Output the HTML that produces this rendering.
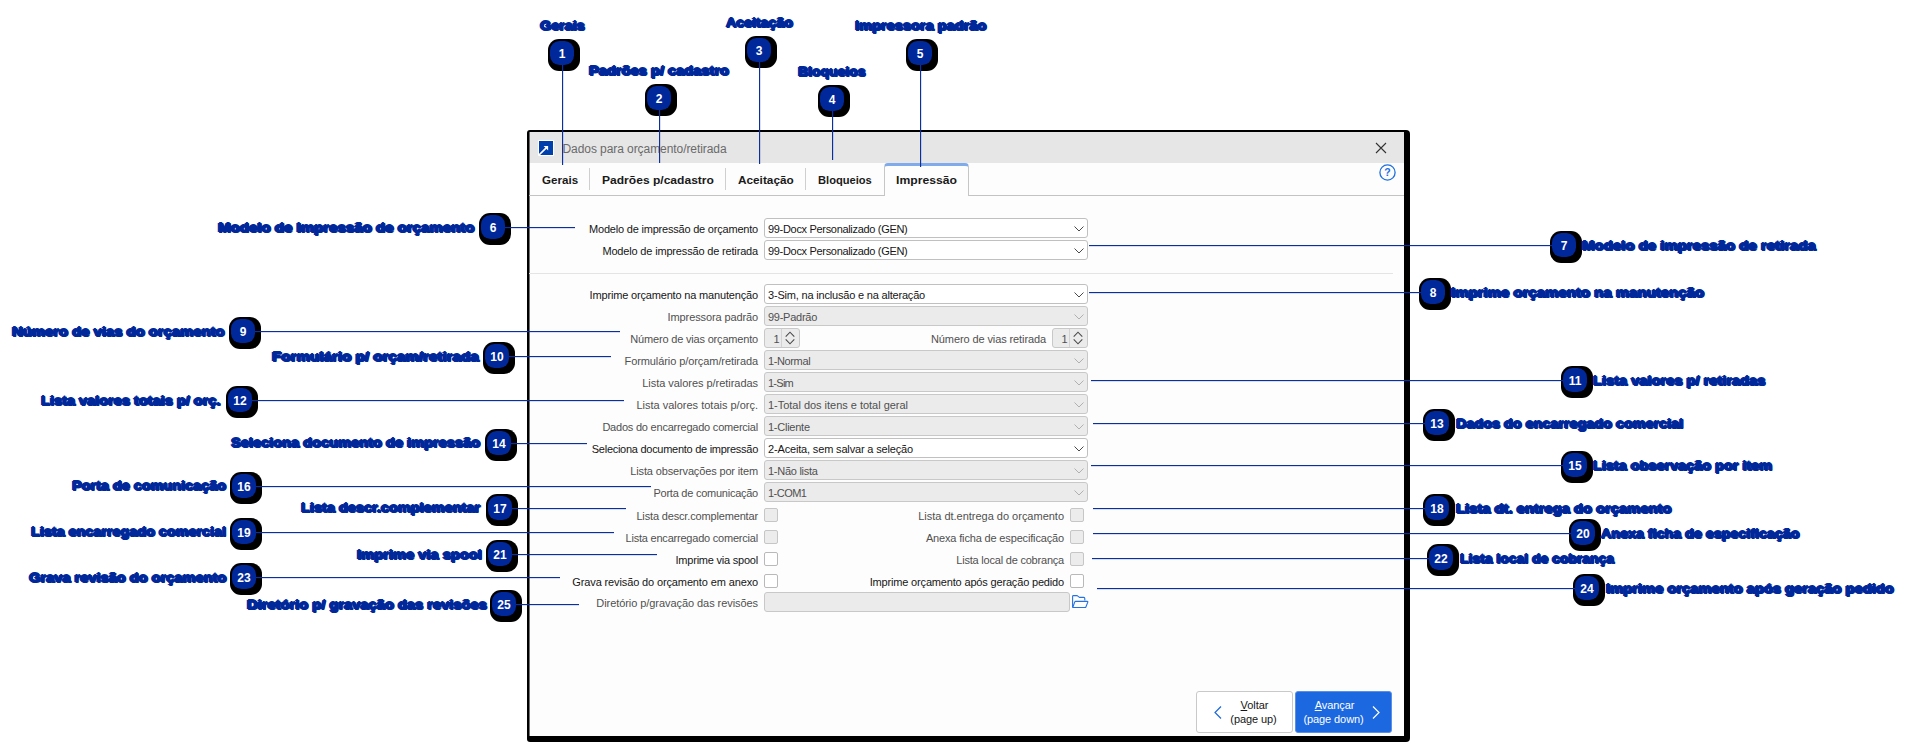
<!DOCTYPE html>
<html><head><meta charset="utf-8"><title>Dados para orçamento/retirada</title><style>

html,body{margin:0;padding:0;background:#fff;}
body{width:1911px;height:752px;position:relative;overflow:hidden;font-family:'Liberation Sans', sans-serif;}
.abs{position:absolute;}
.frame{position:absolute;left:527px;top:130px;width:883px;height:612px;background:#000;border-radius:3px 4px 4px 3px;}
.dlg{position:absolute;left:529px;top:132px;width:875px;height:604px;background:#fdfdfd;}
.title{position:absolute;left:0;top:0;width:875px;height:31px;background:#e6e6e6;}
.tabline{position:absolute;left:0;top:63px;width:875px;height:1px;background:#c3c3c3;}
.tsep{position:absolute;top:36px;width:1px;height:22px;background:#cfcfcf;}
.atab{position:absolute;left:355px;top:31px;width:85px;height:33px;background:#fdfdfd;border:1px solid #c6c6c6;border-bottom:none;
  border-top:3px solid #7faaec;border-radius:4px 4px 0 0;box-sizing:border-box;}
.cb{position:absolute;height:20px;box-sizing:border-box;border:1px solid #c0c0c0;border-radius:3px;background:#fff;}
.cb.dis{background:#ebebeb;border-color:#c8c8c8;}
.chk{position:absolute;width:14px;height:14px;box-sizing:border-box;border:1px solid #b9b9b9;border-radius:2px;background:#fff;}
.chk.dis{background:#ececec;border-color:#c6c6c6;}
.sep{position:absolute;left:0;top:141px;width:864px;height:1px;background:#e4e4e4;}
.bsh{position:absolute;width:32px;height:32px;border-radius:11px;background:#000;}
.badge{position:absolute;width:24px;height:24px;border-radius:9.5px;background:#00289a;color:#fff;
  font:700 12px/25px 'Liberation Sans', sans-serif;text-align:center;}
.al{text-shadow:1px 0 0 #00289a,-1px 0 0 #00289a,0 1px 0 #00289a,0 -1px 0 #00289a,1px 1px 0 #00289a;}
.btn{position:absolute;top:559px;height:42px;box-sizing:border-box;border-radius:3px;}
svg{position:absolute;overflow:visible;}

</style></head><body>
<div class="frame"></div>
<div class="dlg">
<div class="title"></div>
<div class="abs" style="left:0;top:0;width:1px;height:604px;background:rgba(0,0,0,.55)"></div>
<svg style="left:9px;top:8px" width="16" height="16" viewBox="0 0 16 16"><rect width="16" height="16" rx="1" fill="#fff"/><rect x="1" y="1" width="14" height="14" fill="#0040ac"/><path d="M1 15 L8.2 7.8" stroke="#fff" stroke-width="1.7" fill="none"/><path d="M5.6 5.9 H10.1 V10.4 Z" fill="#fff"/></svg>
<svg style="left:847px;top:11px" width="10" height="10" viewBox="0 0 10 10"><path d="M0 0 L10 10 M10 0 L0 10" stroke="#333" stroke-width="1.1" fill="none"/></svg>
<svg style="left:849.5px;top:32px" width="17" height="17" viewBox="0 0 17 17"><circle cx="8.5" cy="8.5" r="7.6" fill="none" stroke="#1f6fe0" stroke-width="1.3"/><text x="8.5" y="12.4" text-anchor="middle" font-family="Liberation Sans, sans-serif" font-size="10.5" font-weight="700" fill="#1f6fe0">?</text></svg>
<div class="tabline"></div>
<div class="tsep" style="left:60px"></div>
<div class="tsep" style="left:196px"></div>
<div class="tsep" style="left:276px"></div>
<div class="atab"></div>
<div class="sep"></div>
</div>
<div style="position:absolute;left:562.5px;top:142.54px;font:400 12px/1.117 'Liberation Sans', sans-serif;color:#6a6a6a;white-space:pre;letter-spacing:-0.072px;">Dados para orçamento/retirada</div>
<div style="position:absolute;left:541.9px;top:173.94px;font:700 11px/1.117 'Liberation Sans', sans-serif;color:#1a1a1a;white-space:pre;transform:scaleX(1.0540);transform-origin:0 0;">Gerais</div>
<div style="position:absolute;left:602.1px;top:173.94px;font:700 11px/1.117 'Liberation Sans', sans-serif;color:#1a1a1a;white-space:pre;transform:scaleX(1.0961);transform-origin:0 0;">Padrões p/cadastro</div>
<div style="position:absolute;left:738.3px;top:173.94px;font:700 11px/1.117 'Liberation Sans', sans-serif;color:#1a1a1a;white-space:pre;transform:scaleX(1.0715);transform-origin:0 0;">Aceitação</div>
<div style="position:absolute;left:818.1px;top:173.94px;font:700 11px/1.117 'Liberation Sans', sans-serif;color:#1a1a1a;white-space:pre;transform:scaleX(1.0118);transform-origin:0 0;">Bloqueios</div>
<div style="position:absolute;left:896.0px;top:173.94px;font:700 11px/1.117 'Liberation Sans', sans-serif;color:#1a1a1a;white-space:pre;transform:scaleX(1.1066);transform-origin:0 0;">Impressão</div>
<div style="position:absolute;left:589.1px;top:223.04px;font:400 11px/1.117 'Liberation Sans', sans-serif;color:#161616;white-space:pre;letter-spacing:-0.206px;">Modelo de impressão de orçamento</div>
<div class="cb" style="left:764px;top:218px;width:324px"></div>
<div style="position:absolute;left:768.0px;top:223.04px;font:400 11px/1.117 'Liberation Sans', sans-serif;color:#161616;white-space:pre;letter-spacing:-0.317px;">99-Docx Personalizado (GEN)</div>
<svg style="left:1073.5px;top:225.5px" width="10" height="6" viewBox="0 0 10 6"><path d="M0.5 0.5 L5 5 L9.5 0.5" stroke="#4a4a4a" stroke-width="1" fill="none"/></svg>
<div style="position:absolute;left:602.4px;top:245.04px;font:400 11px/1.117 'Liberation Sans', sans-serif;color:#161616;white-space:pre;letter-spacing:-0.168px;">Modelo de impressão de retirada</div>
<div class="cb" style="left:764px;top:240px;width:324px"></div>
<div style="position:absolute;left:768.0px;top:245.04px;font:400 11px/1.117 'Liberation Sans', sans-serif;color:#161616;white-space:pre;letter-spacing:-0.317px;">99-Docx Personalizado (GEN)</div>
<svg style="left:1073.5px;top:247.5px" width="10" height="6" viewBox="0 0 10 6"><path d="M0.5 0.5 L5 5 L9.5 0.5" stroke="#4a4a4a" stroke-width="1" fill="none"/></svg>
<div style="position:absolute;left:589.6px;top:289.05px;font:400 11px/1.117 'Liberation Sans', sans-serif;color:#161616;white-space:pre;letter-spacing:-0.17px;">Imprime orçamento na manutenção</div>
<div class="cb" style="left:764px;top:284px;width:324px"></div>
<div style="position:absolute;left:768.0px;top:289.05px;font:400 11px/1.117 'Liberation Sans', sans-serif;color:#161616;white-space:pre;letter-spacing:-0.19px;">3-Sim, na inclusão e na alteração</div>
<svg style="left:1073.5px;top:291.5px" width="10" height="6" viewBox="0 0 10 6"><path d="M0.5 0.5 L5 5 L9.5 0.5" stroke="#4a4a4a" stroke-width="1" fill="none"/></svg>
<div style="position:absolute;left:667.6px;top:311.05px;font:400 11px/1.117 'Liberation Sans', sans-serif;color:#505050;white-space:pre;letter-spacing:-0.113px;">Impressora padrão</div>
<div class="cb dis" style="left:764px;top:306px;width:324px"></div>
<div style="position:absolute;left:768.0px;top:311.05px;font:400 11px/1.117 'Liberation Sans', sans-serif;color:#505050;white-space:pre;letter-spacing:-0.264px;">99-Padrão</div>
<svg style="left:1073.5px;top:313.5px" width="10" height="6" viewBox="0 0 10 6"><path d="M0.5 0.5 L5 5 L9.5 0.5" stroke="#b0b0b0" stroke-width="1" fill="none"/></svg>
<div style="position:absolute;left:630.3px;top:333.05px;font:400 11px/1.117 'Liberation Sans', sans-serif;color:#505050;white-space:pre;letter-spacing:-0.182px;">Número de vias orçamento</div>
<div class="cb dis" style="left:764px;top:328px;width:36px"></div><div class="abs" style="left:781px;top:329px;width:1px;height:18px;background:#d2d2d2"></div><div style="position:absolute;left:773.5px;top:333.05px;font:400 11px/1.117 'Liberation Sans', sans-serif;color:#505050;white-space:pre;">1</div><svg style="left:785.2px;top:330.8px" width="10" height="14" viewBox="0 0 10 14"><path d="M0.7 5.6 L5 1.2 L9.3 5.6 M0.7 8.4 L5 12.8 L9.3 8.4" stroke="#4a4a4a" stroke-width="1.1" fill="none"/></svg>
<div style="position:absolute;left:624.5px;top:355.05px;font:400 11px/1.117 'Liberation Sans', sans-serif;color:#505050;white-space:pre;letter-spacing:-0.082px;">Formulário p/orçam/retirada</div>
<div class="cb dis" style="left:764px;top:350px;width:324px"></div>
<div style="position:absolute;left:768.0px;top:355.05px;font:400 11px/1.117 'Liberation Sans', sans-serif;color:#505050;white-space:pre;letter-spacing:-0.379px;">1-Normal</div>
<svg style="left:1073.5px;top:357.5px" width="10" height="6" viewBox="0 0 10 6"><path d="M0.5 0.5 L5 5 L9.5 0.5" stroke="#b0b0b0" stroke-width="1" fill="none"/></svg>
<div style="position:absolute;left:642.3px;top:377.05px;font:400 11px/1.117 'Liberation Sans', sans-serif;color:#505050;white-space:pre;letter-spacing:-0.043px;">Lista valores p/retiradas</div>
<div class="cb dis" style="left:764px;top:372px;width:324px"></div>
<div style="position:absolute;left:768.0px;top:377.05px;font:400 11px/1.117 'Liberation Sans', sans-serif;color:#505050;white-space:pre;letter-spacing:-0.747px;">1-Sim</div>
<svg style="left:1073.5px;top:379.5px" width="10" height="6" viewBox="0 0 10 6"><path d="M0.5 0.5 L5 5 L9.5 0.5" stroke="#b0b0b0" stroke-width="1" fill="none"/></svg>
<div style="position:absolute;left:636.4px;top:399.05px;font:400 11px/1.117 'Liberation Sans', sans-serif;color:#505050;white-space:pre;letter-spacing:-0.003px;">Lista valores totais p/orç.</div>
<div class="cb dis" style="left:764px;top:394px;width:324px"></div>
<div style="position:absolute;left:768.0px;top:399.05px;font:400 11px/1.117 'Liberation Sans', sans-serif;color:#505050;white-space:pre;letter-spacing:-0.021px;">1-Total dos itens e total geral</div>
<svg style="left:1073.5px;top:401.5px" width="10" height="6" viewBox="0 0 10 6"><path d="M0.5 0.5 L5 5 L9.5 0.5" stroke="#b0b0b0" stroke-width="1" fill="none"/></svg>
<div style="position:absolute;left:602.4px;top:421.05px;font:400 11px/1.117 'Liberation Sans', sans-serif;color:#505050;white-space:pre;letter-spacing:-0.215px;">Dados do encarregado comercial</div>
<div class="cb dis" style="left:764px;top:416px;width:324px"></div>
<div style="position:absolute;left:768.0px;top:421.05px;font:400 11px/1.117 'Liberation Sans', sans-serif;color:#505050;white-space:pre;letter-spacing:-0.248px;">1-Cliente</div>
<svg style="left:1073.5px;top:423.5px" width="10" height="6" viewBox="0 0 10 6"><path d="M0.5 0.5 L5 5 L9.5 0.5" stroke="#b0b0b0" stroke-width="1" fill="none"/></svg>
<div style="position:absolute;left:591.8px;top:443.05px;font:400 11px/1.117 'Liberation Sans', sans-serif;color:#161616;white-space:pre;letter-spacing:-0.272px;">Seleciona documento de impressão</div>
<div class="cb" style="left:764px;top:438px;width:324px"></div>
<div style="position:absolute;left:768.0px;top:443.05px;font:400 11px/1.117 'Liberation Sans', sans-serif;color:#161616;white-space:pre;letter-spacing:-0.16px;">2-Aceita, sem salvar a seleção</div>
<svg style="left:1073.5px;top:445.5px" width="10" height="6" viewBox="0 0 10 6"><path d="M0.5 0.5 L5 5 L9.5 0.5" stroke="#4a4a4a" stroke-width="1" fill="none"/></svg>
<div style="position:absolute;left:630.3px;top:465.05px;font:400 11px/1.117 'Liberation Sans', sans-serif;color:#505050;white-space:pre;letter-spacing:-0.144px;">Lista observações por item</div>
<div class="cb dis" style="left:764px;top:460px;width:324px"></div>
<div style="position:absolute;left:768.0px;top:465.05px;font:400 11px/1.117 'Liberation Sans', sans-serif;color:#505050;white-space:pre;letter-spacing:-0.271px;">1-Não lista</div>
<svg style="left:1073.5px;top:467.5px" width="10" height="6" viewBox="0 0 10 6"><path d="M0.5 0.5 L5 5 L9.5 0.5" stroke="#b0b0b0" stroke-width="1" fill="none"/></svg>
<div style="position:absolute;left:653.5px;top:487.05px;font:400 11px/1.117 'Liberation Sans', sans-serif;color:#505050;white-space:pre;letter-spacing:-0.248px;">Porta de comunicação</div>
<div class="cb dis" style="left:764px;top:482px;width:324px"></div>
<div style="position:absolute;left:768.0px;top:487.05px;font:400 11px/1.117 'Liberation Sans', sans-serif;color:#505050;white-space:pre;letter-spacing:-0.527px;">1-COM1</div>
<svg style="left:1073.5px;top:489.5px" width="10" height="6" viewBox="0 0 10 6"><path d="M0.5 0.5 L5 5 L9.5 0.5" stroke="#b0b0b0" stroke-width="1" fill="none"/></svg>
<div style="position:absolute;left:636.4px;top:509.65px;font:400 11px/1.117 'Liberation Sans', sans-serif;color:#505050;white-space:pre;letter-spacing:-0.156px;">Lista descr.complementar</div>
<div class="chk dis" style="left:764px;top:508px"></div>
<div style="position:absolute;left:625.5px;top:531.64px;font:400 11px/1.117 'Liberation Sans', sans-serif;color:#505050;white-space:pre;letter-spacing:-0.211px;">Lista encarregado comercial</div>
<div class="chk dis" style="left:764px;top:530px"></div>
<div style="position:absolute;left:675.5px;top:553.64px;font:400 11px/1.117 'Liberation Sans', sans-serif;color:#161616;white-space:pre;letter-spacing:-0.218px;">Imprime via spool</div>
<div class="chk" style="left:764px;top:552px"></div>
<div style="position:absolute;left:572.3px;top:575.64px;font:400 11px/1.117 'Liberation Sans', sans-serif;color:#161616;white-space:pre;letter-spacing:-0.127px;">Grava revisão do orçamento em anexo</div>
<div class="chk" style="left:764px;top:574px"></div>
<div style="position:absolute;left:596.3px;top:597.04px;font:400 11px/1.117 'Liberation Sans', sans-serif;color:#505050;white-space:pre;letter-spacing:-0.065px;">Diretório p/gravação das revisões</div>
<div class="cb dis" style="left:764px;top:592px;width:306px"></div>
<svg style="left:1072px;top:595px" width="17" height="14" viewBox="0 0 17 14"><path d="M0.6 12 V1.4 Q0.6 0.6 1.4 0.6 H5.2 L7.4 2.4 H11.8 Q12.8 2.4 12.8 3.4 V5.6" fill="none" stroke="#2472e2" stroke-width="1.1" stroke-linejoin="round"/><path d="M0.7 12.5 L2.8 6.9 Q3 6.4 3.6 6.4 H15.3 Q16 6.4 15.8 7.1 L13.9 12 Q13.7 12.5 13.1 12.5 Z" fill="none" stroke="#2472e2" stroke-width="1.1" stroke-linejoin="round"/></svg>
<div style="position:absolute;left:931.0px;top:333.05px;font:400 11px/1.117 'Liberation Sans', sans-serif;color:#505050;white-space:pre;letter-spacing:-0.104px;">Número de vias retirada</div>
<div class="cb dis" style="left:1052px;top:328px;width:36px"></div><div class="abs" style="left:1069px;top:329px;width:1px;height:18px;background:#d2d2d2"></div><div style="position:absolute;left:1061.5px;top:333.05px;font:400 11px/1.117 'Liberation Sans', sans-serif;color:#505050;white-space:pre;">1</div><svg style="left:1073.2px;top:330.8px" width="10" height="14" viewBox="0 0 10 14"><path d="M0.7 5.6 L5 1.2 L9.3 5.6 M0.7 8.4 L5 12.8 L9.3 8.4" stroke="#4a4a4a" stroke-width="1.1" fill="none"/></svg>
<div style="position:absolute;left:918.2px;top:509.65px;font:400 11px/1.117 'Liberation Sans', sans-serif;color:#505050;white-space:pre;letter-spacing:-0.012px;">Lista dt.entrega do orçamento</div>
<div class="chk dis" style="left:1070px;top:508px"></div>
<div style="position:absolute;left:925.9px;top:531.64px;font:400 11px/1.117 'Liberation Sans', sans-serif;color:#505050;white-space:pre;letter-spacing:-0.157px;">Anexa ficha de especificação</div>
<div class="chk dis" style="left:1070px;top:530px"></div>
<div style="position:absolute;left:956.3px;top:553.64px;font:400 11px/1.117 'Liberation Sans', sans-serif;color:#505050;white-space:pre;letter-spacing:-0.209px;">Lista local de cobrança</div>
<div class="chk dis" style="left:1070px;top:552px"></div>
<div style="position:absolute;left:869.7px;top:575.64px;font:400 11px/1.117 'Liberation Sans', sans-serif;color:#161616;white-space:pre;letter-spacing:-0.169px;">Imprime orçamento após geração pedido</div>
<div class="chk" style="left:1070px;top:574px"></div>
<div class="btn" style="left:1196px;top:691px;width:97px;background:#fff;border:1px solid #c9c9c9"></div>
<div class="btn" style="left:1295px;top:691px;width:97px;background:#1c68e0;border:1px solid #5b8fe6"></div>
<svg style="left:1214px;top:705.5px" width="8" height="13" viewBox="0 0 8 13"><path d="M7 0.5 L1 6.5 L7 12.5" stroke="#1c68e0" stroke-width="1.2" fill="none"/></svg>
<svg style="left:1372px;top:705.5px" width="8" height="13" viewBox="0 0 8 13"><path d="M1 0.5 L7 6.5 L1 12.5" stroke="#fff" stroke-width="1.2" fill="none"/></svg>
<div style="position:absolute;left:1240.6px;top:698.75px;font:400 11px/1.117 'Liberation Sans', sans-serif;color:#161616;white-space:pre;letter-spacing:-0.07px;"><span style="text-decoration:underline">V</span>oltar</div>
<div style="position:absolute;left:1230.3px;top:713.44px;font:400 11px/1.117 'Liberation Sans', sans-serif;color:#161616;white-space:pre;letter-spacing:-0.078px;">(page up)</div>
<div style="position:absolute;left:1314.7px;top:698.75px;font:400 11px/1.117 'Liberation Sans', sans-serif;color:#fff;white-space:pre;letter-spacing:-0.086px;"><span style="text-decoration:underline">A</span>vançar</div>
<div style="position:absolute;left:1303.4px;top:713.44px;font:400 11px/1.117 'Liberation Sans', sans-serif;color:#fff;white-space:pre;letter-spacing:-0.083px;">(page down)</div>
<div class="bsh" style="left:548.0px;top:39.0px"></div>
<div class="bsh" style="left:645.0px;top:84.0px"></div>
<div class="bsh" style="left:745.0px;top:36.0px"></div>
<div class="bsh" style="left:818.0px;top:85.0px"></div>
<div class="bsh" style="left:906.0px;top:39.0px"></div>
<div class="bsh" style="left:479.0px;top:213.0px"></div>
<div class="bsh" style="left:1550.0px;top:231.0px"></div>
<div class="bsh" style="left:1419.0px;top:278.0px"></div>
<div class="bsh" style="left:229.0px;top:317.0px"></div>
<div class="bsh" style="left:483.0px;top:342.0px"></div>
<div class="bsh" style="left:1561.0px;top:366.0px"></div>
<div class="bsh" style="left:226.0px;top:386.0px"></div>
<div class="bsh" style="left:1423.0px;top:409.0px"></div>
<div class="bsh" style="left:485.0px;top:429.0px"></div>
<div class="bsh" style="left:1561.0px;top:451.0px"></div>
<div class="bsh" style="left:230.0px;top:472.0px"></div>
<div class="bsh" style="left:486.0px;top:494.0px"></div>
<div class="bsh" style="left:1423.0px;top:494.0px"></div>
<div class="bsh" style="left:230.0px;top:518.0px"></div>
<div class="bsh" style="left:1569.0px;top:519.0px"></div>
<div class="bsh" style="left:486.0px;top:540.0px"></div>
<div class="bsh" style="left:1427.0px;top:544.0px"></div>
<div class="bsh" style="left:230.0px;top:563.0px"></div>
<div class="bsh" style="left:1573.0px;top:574.0px"></div>
<div class="bsh" style="left:490.0px;top:590.0px"></div>
<svg style="left:0;top:0" width="1911" height="752" viewBox="0 0 1911 752">
<rect x="562" y="53" width="1.15" height="112" fill="#0a2f9e"/>
<rect x="659" y="98" width="1.15" height="65" fill="#0a2f9e"/>
<rect x="759" y="50" width="1.15" height="114" fill="#0a2f9e"/>
<rect x="832" y="99" width="1.15" height="61" fill="#0a2f9e"/>
<rect x="920" y="53" width="1.15" height="114" fill="#0a2f9e"/>
<rect x="493" y="227" width="82" height="1.15" fill="#0a2f9e"/>
<rect x="243" y="331" width="377" height="1.15" fill="#0a2f9e"/>
<rect x="497" y="356" width="114" height="1.15" fill="#0a2f9e"/>
<rect x="240" y="400" width="384" height="1.15" fill="#0a2f9e"/>
<rect x="499" y="443" width="88" height="1.15" fill="#0a2f9e"/>
<rect x="244" y="486" width="407" height="1.15" fill="#0a2f9e"/>
<rect x="500" y="508" width="126" height="1.15" fill="#0a2f9e"/>
<rect x="244" y="532" width="370" height="1.15" fill="#0a2f9e"/>
<rect x="500" y="554" width="157" height="1.15" fill="#0a2f9e"/>
<rect x="244" y="577" width="316" height="1.15" fill="#0a2f9e"/>
<rect x="504" y="604" width="75" height="1.15" fill="#0a2f9e"/>
<rect x="1089" y="245" width="475" height="1.15" fill="#0a2f9e"/>
<rect x="1089" y="292" width="344" height="1.15" fill="#0a2f9e"/>
<rect x="1091" y="380" width="484" height="1.15" fill="#0a2f9e"/>
<rect x="1093" y="423" width="344" height="1.15" fill="#0a2f9e"/>
<rect x="1091" y="465" width="484" height="1.15" fill="#0a2f9e"/>
<rect x="1093" y="508" width="344" height="1.15" fill="#0a2f9e"/>
<rect x="1093" y="533" width="490" height="1.15" fill="#0a2f9e"/>
<rect x="1092" y="558" width="349" height="1.15" fill="#0a2f9e"/>
<rect x="1097" y="588" width="490" height="1.15" fill="#0a2f9e"/>
</svg>
<div class="badge" style="left:550.0px;top:41.0px"></div>
<div style="position:absolute;left:550.0px;width:24px;text-align:center;top:47px;font:700 12px/14px 'Liberation Sans', sans-serif;color:#fff">1</div>
<div class="badge" style="left:647.0px;top:86.0px"></div>
<div style="position:absolute;left:647.0px;width:24px;text-align:center;top:92px;font:700 12px/14px 'Liberation Sans', sans-serif;color:#fff">2</div>
<div class="badge" style="left:747.0px;top:38.0px"></div>
<div style="position:absolute;left:747.0px;width:24px;text-align:center;top:44px;font:700 12px/14px 'Liberation Sans', sans-serif;color:#fff">3</div>
<div class="badge" style="left:820.0px;top:87.0px"></div>
<div style="position:absolute;left:820.0px;width:24px;text-align:center;top:93px;font:700 12px/14px 'Liberation Sans', sans-serif;color:#fff">4</div>
<div class="badge" style="left:908.0px;top:41.0px"></div>
<div style="position:absolute;left:908.0px;width:24px;text-align:center;top:47px;font:700 12px/14px 'Liberation Sans', sans-serif;color:#fff">5</div>
<div class="badge" style="left:481.0px;top:215.0px"></div>
<div style="position:absolute;left:481.0px;width:24px;text-align:center;top:221px;font:700 12px/14px 'Liberation Sans', sans-serif;color:#fff">6</div>
<div class="badge" style="left:1552.0px;top:233.0px"></div>
<div style="position:absolute;left:1552.0px;width:24px;text-align:center;top:239px;font:700 12px/14px 'Liberation Sans', sans-serif;color:#fff">7</div>
<div class="badge" style="left:1421.0px;top:280.0px"></div>
<div style="position:absolute;left:1421.0px;width:24px;text-align:center;top:286px;font:700 12px/14px 'Liberation Sans', sans-serif;color:#fff">8</div>
<div class="badge" style="left:231.0px;top:319.0px"></div>
<div style="position:absolute;left:231.0px;width:24px;text-align:center;top:325px;font:700 12px/14px 'Liberation Sans', sans-serif;color:#fff">9</div>
<div class="badge" style="left:485.0px;top:344.0px"></div>
<div style="position:absolute;left:485.0px;width:24px;text-align:center;top:350px;font:700 12px/14px 'Liberation Sans', sans-serif;color:#fff">10</div>
<div class="badge" style="left:1563.0px;top:368.0px"></div>
<div style="position:absolute;left:1563.0px;width:24px;text-align:center;top:374px;font:700 12px/14px 'Liberation Sans', sans-serif;color:#fff">11</div>
<div class="badge" style="left:228.0px;top:388.0px"></div>
<div style="position:absolute;left:228.0px;width:24px;text-align:center;top:394px;font:700 12px/14px 'Liberation Sans', sans-serif;color:#fff">12</div>
<div class="badge" style="left:1425.0px;top:411.0px"></div>
<div style="position:absolute;left:1425.0px;width:24px;text-align:center;top:417px;font:700 12px/14px 'Liberation Sans', sans-serif;color:#fff">13</div>
<div class="badge" style="left:487.0px;top:431.0px"></div>
<div style="position:absolute;left:487.0px;width:24px;text-align:center;top:437px;font:700 12px/14px 'Liberation Sans', sans-serif;color:#fff">14</div>
<div class="badge" style="left:1563.0px;top:453.0px"></div>
<div style="position:absolute;left:1563.0px;width:24px;text-align:center;top:459px;font:700 12px/14px 'Liberation Sans', sans-serif;color:#fff">15</div>
<div class="badge" style="left:232.0px;top:474.0px"></div>
<div style="position:absolute;left:232.0px;width:24px;text-align:center;top:480px;font:700 12px/14px 'Liberation Sans', sans-serif;color:#fff">16</div>
<div class="badge" style="left:488.0px;top:496.0px"></div>
<div style="position:absolute;left:488.0px;width:24px;text-align:center;top:502px;font:700 12px/14px 'Liberation Sans', sans-serif;color:#fff">17</div>
<div class="badge" style="left:1425.0px;top:496.0px"></div>
<div style="position:absolute;left:1425.0px;width:24px;text-align:center;top:502px;font:700 12px/14px 'Liberation Sans', sans-serif;color:#fff">18</div>
<div class="badge" style="left:232.0px;top:520.0px"></div>
<div style="position:absolute;left:232.0px;width:24px;text-align:center;top:526px;font:700 12px/14px 'Liberation Sans', sans-serif;color:#fff">19</div>
<div class="badge" style="left:1571.0px;top:521.0px"></div>
<div style="position:absolute;left:1571.0px;width:24px;text-align:center;top:527px;font:700 12px/14px 'Liberation Sans', sans-serif;color:#fff">20</div>
<div class="badge" style="left:488.0px;top:542.0px"></div>
<div style="position:absolute;left:488.0px;width:24px;text-align:center;top:548px;font:700 12px/14px 'Liberation Sans', sans-serif;color:#fff">21</div>
<div class="badge" style="left:1429.0px;top:546.0px"></div>
<div style="position:absolute;left:1429.0px;width:24px;text-align:center;top:552px;font:700 12px/14px 'Liberation Sans', sans-serif;color:#fff">22</div>
<div class="badge" style="left:232.0px;top:565.0px"></div>
<div style="position:absolute;left:232.0px;width:24px;text-align:center;top:571px;font:700 12px/14px 'Liberation Sans', sans-serif;color:#fff">23</div>
<div class="badge" style="left:1575.0px;top:576.0px"></div>
<div style="position:absolute;left:1575.0px;width:24px;text-align:center;top:582px;font:700 12px/14px 'Liberation Sans', sans-serif;color:#fff">24</div>
<div class="badge" style="left:492.0px;top:592.0px"></div>
<div style="position:absolute;left:492.0px;width:24px;text-align:center;top:598px;font:700 12px/14px 'Liberation Sans', sans-serif;color:#fff">25</div>
<div class="al" style="position:absolute;left:539.6px;top:19.23px;font:700 13px/1.117 'Liberation Sans', sans-serif;color:#00289a;white-space:pre;transform:scaleX(1.1017);transform-origin:0 0;">Gerais</div>
<div class="al" style="position:absolute;left:589.0px;top:63.64px;font:700 13px/1.117 'Liberation Sans', sans-serif;color:#00289a;white-space:pre;transform:scaleX(1.1257);transform-origin:0 0;">Padrões p/ cadastro</div>
<div class="al" style="position:absolute;left:725.6px;top:16.04px;font:700 13px/1.117 'Liberation Sans', sans-serif;color:#00289a;white-space:pre;transform:scaleX(1.0876);transform-origin:0 0;">Aceitação</div>
<div class="al" style="position:absolute;left:798.4px;top:65.34px;font:700 13px/1.117 'Liberation Sans', sans-serif;color:#00289a;white-space:pre;transform:scaleX(1.0741);transform-origin:0 0;">Bloqueios</div>
<div class="al" style="position:absolute;left:854.9px;top:18.93px;font:700 13px/1.117 'Liberation Sans', sans-serif;color:#00289a;white-space:pre;transform:scaleX(1.1218);transform-origin:0 0;">Impressora padrão</div>
<div class="al" style="position:absolute;left:218.1px;top:221.24px;font:700 13px/1.117 'Liberation Sans', sans-serif;color:#00289a;white-space:pre;transform:scaleX(1.1561);transform-origin:0 0;">Modelo de Impressão de orçamento</div>
<div class="al" style="position:absolute;left:11.9px;top:325.04px;font:700 13px/1.117 'Liberation Sans', sans-serif;color:#00289a;white-space:pre;transform:scaleX(1.1401);transform-origin:0 0;">Número de vias do orçamento</div>
<div class="al" style="position:absolute;left:272.2px;top:350.13px;font:700 13px/1.117 'Liberation Sans', sans-serif;color:#00289a;white-space:pre;transform:scaleX(1.1678);transform-origin:0 0;">Formulário p/ orçam/retirada</div>
<div class="al" style="position:absolute;left:41.2px;top:394.04px;font:700 13px/1.117 'Liberation Sans', sans-serif;color:#00289a;white-space:pre;transform:scaleX(1.1185);transform-origin:0 0;">Lista valores totais p/ orç.</div>
<div class="al" style="position:absolute;left:231.2px;top:436.44px;font:700 13px/1.117 'Liberation Sans', sans-serif;color:#00289a;white-space:pre;transform:scaleX(1.1226);transform-origin:0 0;">Seleciona documento de impressão</div>
<div class="al" style="position:absolute;left:71.9px;top:479.44px;font:700 13px/1.117 'Liberation Sans', sans-serif;color:#00289a;white-space:pre;transform:scaleX(1.1102);transform-origin:0 0;">Porta de comunicação</div>
<div class="al" style="position:absolute;left:301.2px;top:501.44px;font:700 13px/1.117 'Liberation Sans', sans-serif;color:#00289a;white-space:pre;transform:scaleX(1.1159);transform-origin:0 0;">Lista descr.complementar</div>
<div class="al" style="position:absolute;left:30.9px;top:525.44px;font:700 13px/1.117 'Liberation Sans', sans-serif;color:#00289a;white-space:pre;transform:scaleX(1.1060);transform-origin:0 0;">Lista encarregado comercial</div>
<div class="al" style="position:absolute;left:357.0px;top:548.24px;font:700 13px/1.117 'Liberation Sans', sans-serif;color:#00289a;white-space:pre;transform:scaleX(1.1289);transform-origin:0 0;">Imprime via spool</div>
<div class="al" style="position:absolute;left:28.6px;top:571.04px;font:700 13px/1.117 'Liberation Sans', sans-serif;color:#00289a;white-space:pre;transform:scaleX(1.1237);transform-origin:0 0;">Grava revisão do orçamento</div>
<div class="al" style="position:absolute;left:246.5px;top:597.94px;font:700 13px/1.117 'Liberation Sans', sans-serif;color:#00289a;white-space:pre;transform:scaleX(1.1283);transform-origin:0 0;">Diretório p/ gravação das revisões</div>
<div class="al" style="position:absolute;left:1582.0px;top:239.13px;font:700 13px/1.117 'Liberation Sans', sans-serif;color:#00289a;white-space:pre;transform:scaleX(1.1516);transform-origin:0 0;">Modelo de impressão de retirada</div>
<div class="al" style="position:absolute;left:1451.0px;top:285.94px;font:700 13px/1.117 'Liberation Sans', sans-serif;color:#00289a;white-space:pre;transform:scaleX(1.1520);transform-origin:0 0;">Imprime orçamento na manutenção</div>
<div class="al" style="position:absolute;left:1592.7px;top:373.63px;font:700 13px/1.117 'Liberation Sans', sans-serif;color:#00289a;white-space:pre;transform:scaleX(1.1248);transform-origin:0 0;">Lista valores p/ retiradas</div>
<div class="al" style="position:absolute;left:1455.8px;top:416.83px;font:700 13px/1.117 'Liberation Sans', sans-serif;color:#00289a;white-space:pre;transform:scaleX(1.1068);transform-origin:0 0;">Dados do encarregado comercial</div>
<div class="al" style="position:absolute;left:1593.2px;top:459.24px;font:700 13px/1.117 'Liberation Sans', sans-serif;color:#00289a;white-space:pre;transform:scaleX(1.1109);transform-origin:0 0;">Lista observação por item</div>
<div class="al" style="position:absolute;left:1455.8px;top:501.94px;font:700 13px/1.117 'Liberation Sans', sans-serif;color:#00289a;white-space:pre;transform:scaleX(1.1338);transform-origin:0 0;">Lista dt. entrega do orçamento</div>
<div class="al" style="position:absolute;left:1600.6px;top:526.74px;font:700 13px/1.117 'Liberation Sans', sans-serif;color:#00289a;white-space:pre;transform:scaleX(1.0982);transform-origin:0 0;">Anexa ficha de especificação</div>
<div class="al" style="position:absolute;left:1460.2px;top:552.24px;font:700 13px/1.117 'Liberation Sans', sans-serif;color:#00289a;white-space:pre;transform:scaleX(1.0711);transform-origin:0 0;">Lista local de cobrança</div>
<div class="al" style="position:absolute;left:1605.8px;top:582.04px;font:700 13px/1.117 'Liberation Sans', sans-serif;color:#00289a;white-space:pre;transform:scaleX(1.1314);transform-origin:0 0;">Imprime orçamento após geração pedido</div>
</body></html>
